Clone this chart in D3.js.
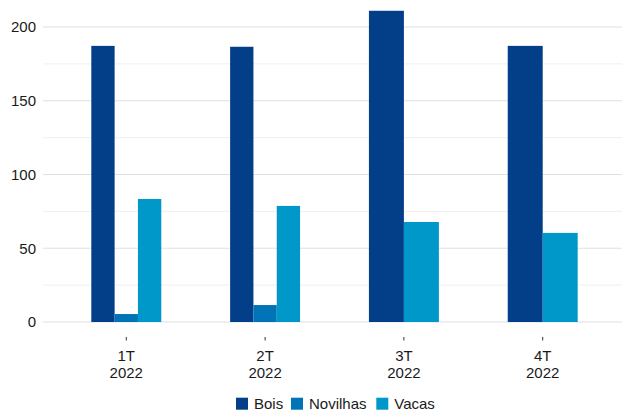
<!DOCTYPE html>
<html>
<head>
<meta charset="utf-8">
<script src="https://cdn.jsdelivr.net/npm/d3@7"></script>
<style>
  html, body { margin: 0; padding: 0; background: #fff; }
  svg { display: block; font-family: "Liberation Sans", Arial, sans-serif; }
</style>
</head>
<body>
<svg id="chart" width="622" height="414"></svg>
<script>
// Quarterly slaughter by animal category (null = no value reported)
const quarters = ["1T\n2022", "2T\n2022", "3T\n2022", "4T\n2022"];
const seriesNames = ["Bois", "Novilhas", "Vacas"];
const bois = [187.2, 186.6, 211.0, 187.2];
const novilhas = [5.4, 11.5, null, null];
const vacas = [83.4, 78.7, 67.8, 60.4];
const colors = ["#033F89", "#0074B6", "#0097C9"];
const majorTicks = [0, 50, 100, 150, 200];
const minorTicks = [25, 75, 125, 175];

const seriesValues = [bois, novilhas, vacas];

const svg = d3.select("#chart");
const panel = { left: 43, right: 626, top: 0, bottom: 337 };

const x = d3.scalePoint()
  .domain(quarters)
  .range([panel.left, panel.right])
  .padding(0.6);

const y = d3.scaleLinear()
  .domain([0, 200])
  .range([322, 27]);

const groupWidth = x.step() * 0.504;

// Grid lines: minor first, then major
svg.append("g").selectAll("line.minor")
  .data(minorTicks).join("line")
  .attr("x1", panel.left).attr("x2", panel.right)
  .attr("y1", d => y(d)).attr("y2", d => y(d))
  .attr("stroke", "#efefef").attr("stroke-width", 1);

svg.append("g").selectAll("line.major")
  .data(majorTicks).join("line")
  .attr("x1", panel.left).attr("x2", panel.right)
  .attr("y1", d => y(d)).attr("y2", d => y(d))
  .attr("stroke", "#e0e0e0").attr("stroke-width", 1.2);

// Y axis labels
const yAxis = d3.axisLeft(y).tickValues(majorTicks).tickSize(0).tickPadding(7);
const yg = svg.append("g").attr("transform", `translate(${panel.left},0)`).call(yAxis);
yg.select(".domain").remove();
yg.selectAll("text")
  .attr("font-size", 15)
  .attr("fill", "#1a1a1a")
  .attr("font-family", "Liberation Sans, Arial, sans-serif");

// Dodged bars: available series share the group width
const bars = [];
quarters.forEach((q, i) => {
  const present = seriesNames
    .map((name, s) => ({ name, s, value: seriesValues[s][i] }))
    .filter(d => d.value !== null);
  const w = groupWidth / present.length;
  present.forEach((d, k) => {
    bars.push({ q, s: d.s, value: d.value, x0: x(q) - groupWidth / 2 + k * w, w });
  });
});

svg.append("g").selectAll("rect")
  .data(bars).join("rect")
  .attr("x", d => d.x0)
  .attr("width", d => d.w)
  .attr("y", d => y(d.value))
  .attr("height", d => y(0) - y(d.value))
  .attr("fill", d => colors[d.s]);

// X axis ticks and two-line labels
const xg = svg.append("g").attr("transform", `translate(0,${panel.bottom})`);
xg.selectAll("line")
  .data(quarters).join("line")
  .attr("x1", d => x(d)).attr("x2", d => x(d))
  .attr("y1", 0).attr("y2", 3.5)
  .attr("stroke", "#333").attr("stroke-width", 1);

const xl = xg.selectAll("text")
  .data(quarters).join("text")
  .attr("text-anchor", "middle")
  .attr("font-size", 15)
  .attr("fill", "#1a1a1a");
xl.each(function(d) {
  const lines = d.split("\n");
  d3.select(this).selectAll("tspan")
    .data(lines).join("tspan")
    .attr("x", x(d))
    .attr("y", (l, k) => 24 + k * 16.5)
    .text(l => l);
});

// Legend
const legendItems = [
  { name: "Bois", x: 236 },
  { name: "Novilhas", x: 291 },
  { name: "Vacas", x: 376.3 }
];
const lg = svg.append("g");
legendItems.forEach((item, i) => {
  lg.append("rect")
    .attr("x", item.x).attr("y", 397.7)
    .attr("width", 12).attr("height", 12)
    .attr("fill", colors[i]);
  lg.append("text")
    .attr("x", item.x + 18).attr("y", 409)
    .attr("font-size", 15)
    .attr("fill", "#1a1a1a")
    .text(item.name);
});
</script>
</body>
</html>
